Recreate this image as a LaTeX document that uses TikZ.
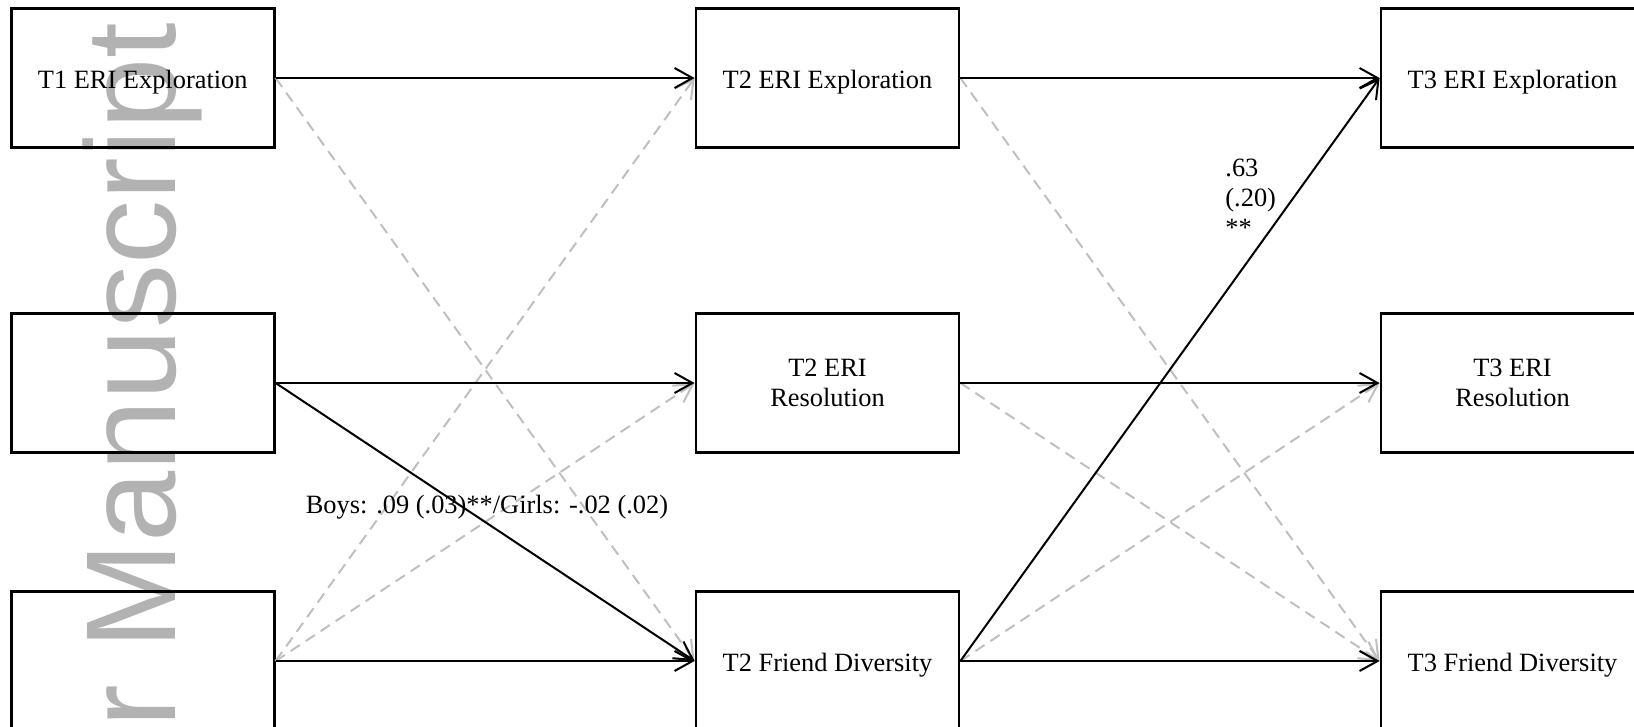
\documentclass[tikz,border=0pt]{standalone}
\usepackage{fontspec}
\setmainfont{Liberation Serif}
\newfontfamily\wmfont{Liberation Sans}
\usetikzlibrary{arrows.meta}

\begin{document}
\begin{tikzpicture}[x=0.5pt,y=-0.5pt,
  box/.style={draw,line width=1.4pt,minimum width=131.5pt,minimum height=69.5pt,
    inner sep=0pt,align=center,font=\fontsize{13.2}{15}\selectfont,
    execute at begin node={\rule{0pt}{#1}}},
  box/.default=13.2pt,
  sig/.style={line width=1pt,-{Straight Barb[length=9pt,width=10pt,line width=1pt]}},
  nsig/.style={sig,color=black!25,dash pattern=on 5.5pt off 3.5pt}]
\def\xa{142.75}\def\xb{827.5}\def\xc{1512.5}
\def\ya{78}\def\yb{383}\def\yc{661}
\useasboundingbox (0,0) rectangle (1634,727);
\clip (0,0) rectangle (1634,727);
% Watermark (behind everything)
\node[rotate=90,anchor=base east,inner sep=0pt,text=black!30,
  font=\wmfont\fontsize{64}{64}\selectfont] (wm) at (175,22.5) {Author Manuscript};
% Boxes
\node[box] (t1expl) at (\xa,\ya) {T1 ERI Exploration};
\node[box] (t1res)  at (\xa,\yb) {};
\node[box] (t1div)  at (\xa,\yc) {};
\node[box] (t2expl) at (\xb,\ya) {T2 ERI Exploration};
\node[box=11.4pt] (t2res)  at (\xb,\yb) {T2 ERI\\Resolution};
\node[box] (t2div)  at (\xb,\yc) {T2 Friend Diversity};
\node[box] (t3expl) at (\xc,\ya) {T3 ERI Exploration};
\node[box=11.4pt] (t3res)  at (\xc,\yb) {T3 ERI\\Resolution};
\node[box] (t3div)  at (\xc,\yc) {T3 Friend Diversity};
% Non-significant paths
\draw[nsig] (t1expl.east) -- (t2div.west);
\draw[nsig] (t1div.east) -- (t2expl.west);
\draw[nsig] (t1div.east) -- (t2res.west);
\draw[nsig] (t2expl.east) -- (t3div.west);
\draw[nsig] (t2res.east) -- (t3div.west);
\draw[nsig] (t2div.east) -- (t3res.west);
% Significant paths
\draw[sig] (t1expl.east) -- (t2expl.west);
\draw[sig] (t1res.east) -- (t2res.west);
\draw[sig] (t1res.east) -- (t2div.west);
\draw[sig] (t1div.east) -- (t2div.west);
\draw[sig] (t2expl.east) -- (t3expl.west);
\draw[sig] (t2res.east) -- (t3res.west);
\draw[sig] (t2div.east) -- (t3div.west);
\draw[sig] (t2div.east) -- (t3expl.west);
% Coefficients
\node[font=\fontsize{13.2}{15}\selectfont,inner sep=0pt] (boysgirls) at (487,507)
  {Boys: .09 (.03)**/Girls: -.02 (.02)};
\node[font=\fontsize{13.2}{15}\selectfont,inner sep=0pt,align=left,anchor=west] (coef)
  at (1225,198) {.63\\(.20)\\**};
\end{tikzpicture}
\end{document}
